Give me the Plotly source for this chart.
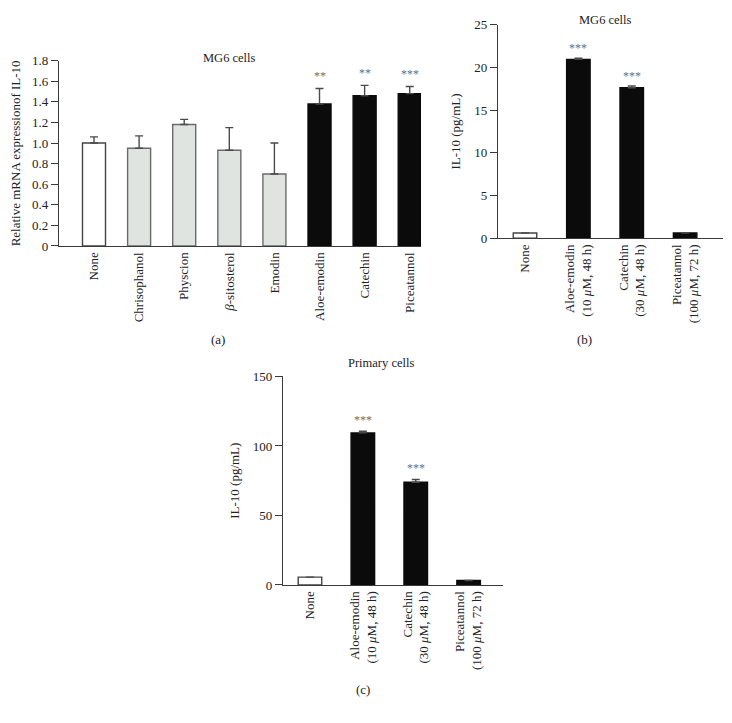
import plotly.graph_objects as go

# ---------------- data ----------------
a_categories = ["None", "Chrisophanol", "Physcion", "<i>β</i>-sitosterol", "Emodin",
                "Aloe-emodin", "Catechin", "Piceatannol"]
a_values = [1.00, 0.95, 1.18, 0.93, 0.70, 1.38, 1.46, 1.48]
a_errors = [0.06, 0.12, 0.05, 0.22, 0.30, 0.15, 0.10, 0.07]
a_sig = ["", "", "", "", "", "**", "**", "***"]
a_ticks = [0, 0.2, 0.4, 0.6, 0.8, 1.0, 1.2, 1.4, 1.6, 1.8]

bc_categories = ["None",
                 "Aloe-emodin<br>(10 <i>μ</i>M, 48 h)",
                 "Catechin<br>(30 <i>μ</i>M, 48 h)",
                 "Piceatannol<br>(100 <i>μ</i>M, 72 h)"]
b_values = [0.6, 20.95, 17.62, 0.6]
b_errors = [0.0, 0.15, 0.2, 0.0]
b_sig = ["", "***", "***", ""]
b_ticks = [0, 5, 10, 15, 20, 25]

c_values = [5.6, 109.4, 73.9, 3.2]
c_errors = [0.0, 1.2, 2.0, 0.0]
c_sig = ["", "***", "***", ""]
c_ticks = [0, 50, 100, 150]

# ---------------- styles ----------------
OFF = 8                      # default page body margin
W, H = 732 - 2 * OFF, 723 - 2 * OFF
FONT = "Liberation Serif"
AX = "#3a3a3a"


def px_x(p):
    return (p - OFF) / W


def px_y(p):
    return 1 - (p - OFF) / H


a_fill = ["#ffffff"] + ["#dfe4e1"] * 4 + ["#0b0b0b"] * 3
a_line = ["#444444"] + ["#6a6a6a"] * 4 + ["#0b0b0b"] * 3
bc_fill = ["#ffffff", "#0b0b0b", "#0b0b0b", "#0b0b0b"]
bc_line = ["#444444", "#0b0b0b", "#0b0b0b", "#0b0b0b"]

fig = go.Figure()


def add_bars(x, y, err, fill, line, width, xa, ya, ecolor):
    fig.add_trace(go.Bar(
        x=list(range(len(x))), y=y, width=width,
        marker=dict(color=fill, line=dict(color=line, width=1.4)),
        error_y=dict(type="data", array=err, arrayminus=[0] * len(err),
                     symmetric=False, color=ecolor, thickness=1.4, width=4),
        xaxis=xa, yaxis=ya, showlegend=False, hoverinfo="skip"))


add_bars(a_categories, a_values, a_errors, a_fill, a_line, 0.51, "x", "y", "#4a4a4a")
add_bars(bc_categories, b_values, b_errors, bc_fill, bc_line, 0.44, "x2", "y2", "#4a4a4a")
add_bars(bc_categories, c_values, c_errors, bc_fill, bc_line, 0.445, "x3", "y3", "#4a4a4a")

ann = []


def sig_ann(sig, vals, errs, xref, yref, shift):
    for i, s in enumerate(sig):
        if s:
            ann.append(dict(x=i, y=vals[i] + errs[i], xref=xref, yref=yref, text=s,
                            showarrow=False, yanchor="middle", yshift=shift,
                            font=dict(family=FONT, size=12, color="#6e6e6e")))


sig_ann(a_sig, a_values, a_errors, "x", "y", 12)
sig_ann(b_sig, b_values, b_errors, "x2", "y2", 10)
sig_ann(c_sig, c_values, c_errors, "x3", "y3", 11)

# titles and panel labels
for txt, xp, yp, sz in [("MG6 cells", 230, 52, 12.5), ("MG6 cells", 605, 13, 12.5),
                        ("Primary cells", 381, 364, 12.5),
                        ("(a)", 218, 340, 13), ("(b)", 584, 340, 13), ("(c)", 363, 697, 13)]:
    ann.append(dict(x=px_x(xp), y=px_y(yp), xref="paper", yref="paper", text=txt,
                    showarrow=False, xanchor="center", yanchor="middle",
                    font=dict(family=FONT, size=sz, color="#222222")))

yaxis_common = dict(showline=True, linecolor=AX, linewidth=1.2, ticks="outside",
                    ticklen=7, tickcolor=AX, tickwidth=1.2, showgrid=False, zeroline=False,
                    tickfont=dict(family=FONT, size=13, color="#222222"),
                    title_font=dict(family=FONT, size=13, color="#222222"))
xaxis_common = dict(showline=True, linecolor=AX, linewidth=1.2, ticks="", showgrid=False,
                    zeroline=False, tickangle=-90, tickmode="array",
                    tickfont=dict(family=FONT, size=13, color="#222222"))

fig.update_layout(
    width=W, height=H, margin=dict(l=0, r=0, t=0, b=0),
    paper_bgcolor="white", plot_bgcolor="white", showlegend=False,
    font=dict(family=FONT),
    annotations=ann,
    xaxis=dict(xaxis_common, domain=[px_x(59), px_x(421)], range=[-0.776, 7.25],
               tickvals=list(range(len(a_categories))), ticktext=a_categories, anchor="y"),
    yaxis=dict(yaxis_common, domain=[px_y(244), px_y(54.7)], range=[0, 1.8],
               tickvals=a_ticks, ticktext=["0"] + [f"{t:.1f}" for t in a_ticks[1:]],
               title=dict(text="Relative mRNA expressionof IL-10", standoff=8), anchor="x"),
    xaxis2=dict(xaxis_common, domain=[px_x(498), px_x(723)], range=[-0.506, 3.71],
                tickvals=list(range(4)), ticktext=bc_categories, anchor="y2"),
    yaxis2=dict(yaxis_common, domain=[px_y(236), px_y(18)], range=[0, 25],
                tickvals=b_ticks, title=dict(text="IL-10 (pg/mL)", standoff=10), anchor="x2"),
    xaxis3=dict(xaxis_common, domain=[px_x(283), px_x(503)], range=[-0.51, 3.65],
                tickvals=list(range(4)), ticktext=bc_categories, anchor="y3"),
    yaxis3=dict(yaxis_common, domain=[px_y(590.3), px_y(377.3)], range=[0, 150],
                tickvals=c_ticks, title=dict(text="IL-10 (pg/mL)", standoff=10), anchor="x3"),
)

fig.write_html("out.html")
